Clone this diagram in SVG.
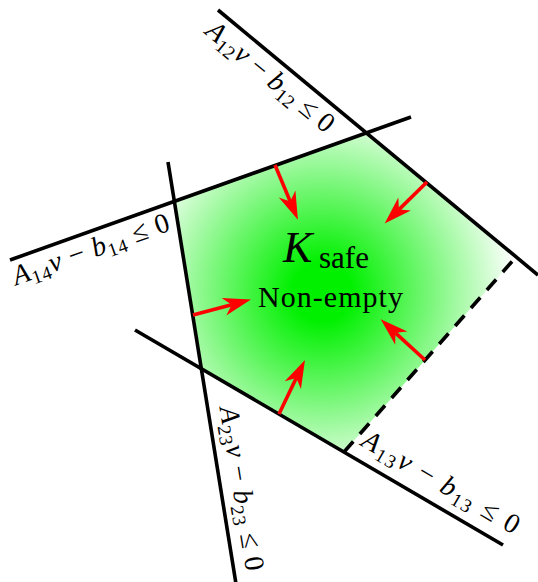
<svg xmlns="http://www.w3.org/2000/svg" width="538" height="582" viewBox="0 0 538 582">
<defs>
<radialGradient id="g" gradientUnits="userSpaceOnUse" cx="322" cy="292" r="195">
<stop offset="0" stop-color="#00f000"/>
<stop offset="0.15" stop-color="#00f000"/>
<stop offset="1" stop-color="#ffffff"/>
</radialGradient>
<marker id="ah" viewBox="-10 -10 32 20" markerWidth="32" markerHeight="20" refX="0" refY="0" orient="auto" markerUnits="userSpaceOnUse">
<path d="M20,0 L-8,-9 L0,0 L-8,9 Z" fill="#ff0000"/>
</marker>
</defs>
<style>
.ln{stroke:#000;stroke-width:3.6;fill:none}
.dash{stroke:#000;stroke-width:3.6;fill:none;stroke-dasharray:14 10}
.ar{stroke:#ff0000;stroke-width:3.6;fill:none;marker-end:url(#ah)}
text{font-family:"Liberation Serif","DejaVu Serif",serif;fill:#000}
.lab{font-size:28px}
.it{font-style:italic}
.sub{font-size:19px}
</style>
<g id="region">
<polygon points="366.4,132.9 174.4,201.3 201.6,368.8 344,452 516,257" fill="url(#g)"/>
</g>
<g id="connectors">
<line class="ln" x1="218" y1="10" x2="538" y2="275"/>
<line class="ln" x1="10" y1="260" x2="411" y2="117"/>
<line class="ln" x1="168" y1="162" x2="237" y2="590"/>
<line class="ln" x1="135" y1="330" x2="503" y2="545"/>
<line class="dash" x1="344" y1="452" x2="516" y2="257"/>
<line class="ar" x1="275" y1="165" x2="290.2" y2="201.4"/>
<line class="ar" x1="427" y1="182" x2="398.9" y2="209.6"/>
<line class="ar" x1="193" y1="315" x2="231.7" y2="304.7"/>
<line class="ar" x1="425" y1="360" x2="395.4" y2="332.8"/>
<line class="ar" x1="279" y1="414" x2="296.3" y2="378"/>
</g>
<g id="label12">
<text class="lab" transform="translate(203.9,33.3) rotate(39.6)" textLength="158"><tspan class="it">A</tspan><tspan class="sub" dy="5">12</tspan><tspan class="it" dy="-5">v</tspan><tspan> − </tspan><tspan class="it">b</tspan><tspan class="sub" dy="5">12</tspan><tspan dy="-5"> ≤ 0</tspan></text>
</g>
<g id="label14">
<text class="lab" transform="translate(15.9,285.5) rotate(-19.6)" textLength="165"><tspan class="it">A</tspan><tspan class="sub" dy="5">14</tspan><tspan class="it" dy="-5">v</tspan><tspan> − </tspan><tspan class="it">b</tspan><tspan class="sub" dy="5">14</tspan><tspan dy="-5"> ≤ 0</tspan></text>
</g>
<g id="label23">
<text class="lab" transform="translate(219.5,408) rotate(80.76)" textLength="166"><tspan class="it">A</tspan><tspan class="sub" dy="5">23</tspan><tspan class="it" dy="-5">v</tspan><tspan> − </tspan><tspan class="it">b</tspan><tspan class="sub" dy="5">23</tspan><tspan dy="-5"> ≤ 0</tspan></text>
</g>
<g id="label13">
<text class="lab" transform="translate(359.7,445) rotate(30.3)" textLength="178"><tspan class="it">A</tspan><tspan class="sub" dy="5">13</tspan><tspan class="it" dy="-5">v</tspan><tspan> − </tspan><tspan class="it">b</tspan><tspan class="sub" dy="5">13</tspan><tspan dy="-5"> ≤ 0</tspan></text>
</g>
<g id="ksafe">
<text x="283" y="262" font-size="44" font-style="italic">K</text>
<text x="319" y="268" font-size="31">safe</text>
<text x="330.5" y="307" font-size="30" text-anchor="middle" textLength="145">Non-empty</text>
</g>
</svg>
